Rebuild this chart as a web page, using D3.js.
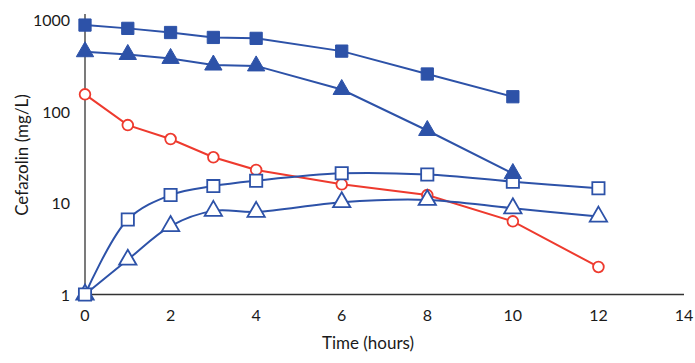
<!DOCTYPE html>
<html>
<head>
<meta charset="utf-8">
<script src="https://cdn.jsdelivr.net/npm/d3@7"></script>
<style>
  body { margin: 0; background: #fff; }
  text { font-family: Lato, "Open Sans", sans-serif; fill: #1a1a1a; }
</style>
</head>
<body>
<div id="chart"></div>
<script>
// time points (hours)
const hours = [0, 1, 2, 3, 4, 6, 8, 10, 12];

// series values (mg/L), null = no measurement
const filledSquare = [880, 810, 730, 645, 630, 457, 257, 145, null];
const filledTriangle = [450, 420, 380, 322, 315, 174, 62, 21, null];
const redCircle = [154, 71, 50, 31.6, 23, 16, 12.2, 6.3, 2.0];
const openSquare = [1, 6.6, 12.2, 15.3, 17.5, 21.1, 20.5, 17.1, 14.5];
const openTriangle = [1, 2.4, 5.6, 8.2, 8.0, 10.2, 10.8, 8.75, 7.1];

const xTicks = [0, 2, 4, 6, 8, 10, 12, 14];
const yTicks = [1, 10, 100, 1000];

const blue = '#2d52a8';
const red = '#ee3a2e';

const dim = { width: 695, height: 363 };

const svg = d3.select('#chart').append('svg')
    .attr('width', dim.width)
    .attr('height', dim.height);

const x = d3.scaleLinear().domain([0, 14]).range([85, 684]);
const y = d3.scaleLog().domain([1, 1000]).range([294.5, 20]);

// axes
svg.append('line')
    .attr('x1', x(0)).attr('x2', x(0))
    .attr('y1', 14).attr('y2', y(1))
    .attr('stroke', '#333').attr('stroke-width', 1.3);
svg.append('line')
    .attr('x1', x(0)).attr('x2', x(14))
    .attr('y1', y(1)).attr('y2', y(1))
    .attr('stroke', '#333').attr('stroke-width', 1.3);

svg.selectAll('.xt').data(xTicks).join('text')
    .attr('class', 'xt')
    .attr('x', d => x(d)).attr('y', 321)
    .attr('text-anchor', 'middle')
    .attr('font-size', 16)
    .text(d => d);

svg.selectAll('.yt').data(yTicks).join('text')
    .attr('class', 'yt')
    .attr('x', 70).attr('y', d => y(d) + 6)
    .attr('text-anchor', 'end')
    .attr('font-size', 16)
    .text(d => d);

svg.append('text')
    .attr('x', 368).attr('y', 349)
    .attr('text-anchor', 'middle')
    .attr('font-size', 17)
    .text('Time (hours)');

svg.append('text')
    .attr('transform', 'translate(28,155) rotate(-90)')
    .attr('text-anchor', 'middle')
    .attr('font-size', 17)
    .text('Cefazolin (mg/L)');

const series = [
    { values: redCircle, color: red, shape: 'circle', filled: false, smooth: false },
    { values: openTriangle, color: blue, shape: 'triangle', filled: false, smooth: true },
    { values: openSquare, color: blue, shape: 'square', filled: false, smooth: true },
    { values: filledTriangle, color: blue, shape: 'triangle', filled: true, smooth: false },
    { values: filledSquare, color: blue, shape: 'square', filled: true, smooth: false }
];

const symbolOf = {
    circle: d3.symbol().type(d3.symbolCircle).size(90),
    square: d3.symbol().type(d3.symbolSquare).size(150),
    triangle: d3.symbol().type(d3.symbolTriangle).size(130)
};

series.forEach(function(s) {
    const pts = hours.map((h, i) => ({ h: h, v: s.values[i] })).filter(p => p.v != null);

    const line = d3.line()
        .x(d => x(d.h))
        .y(d => y(d.v))
        .curve(s.smooth ? d3.curveCatmullRom.alpha(0.5) : d3.curveLinear);

    svg.append('path')
        .datum(pts)
        .attr('d', line)
        .attr('fill', 'none')
        .attr('stroke', s.color)
        .attr('stroke-width', 2);

    svg.selectAll(null).data(pts).join('path')
        .attr('transform', d => 'translate(' + x(d.h) + ',' + y(d.v) + ')')
        .attr('d', symbolOf[s.shape])
        .attr('fill', s.filled ? s.color : '#fff')
        .attr('stroke', s.color)
        .attr('stroke-width', s.filled ? 1 : 1.8);
});
</script>
</body>
</html>
